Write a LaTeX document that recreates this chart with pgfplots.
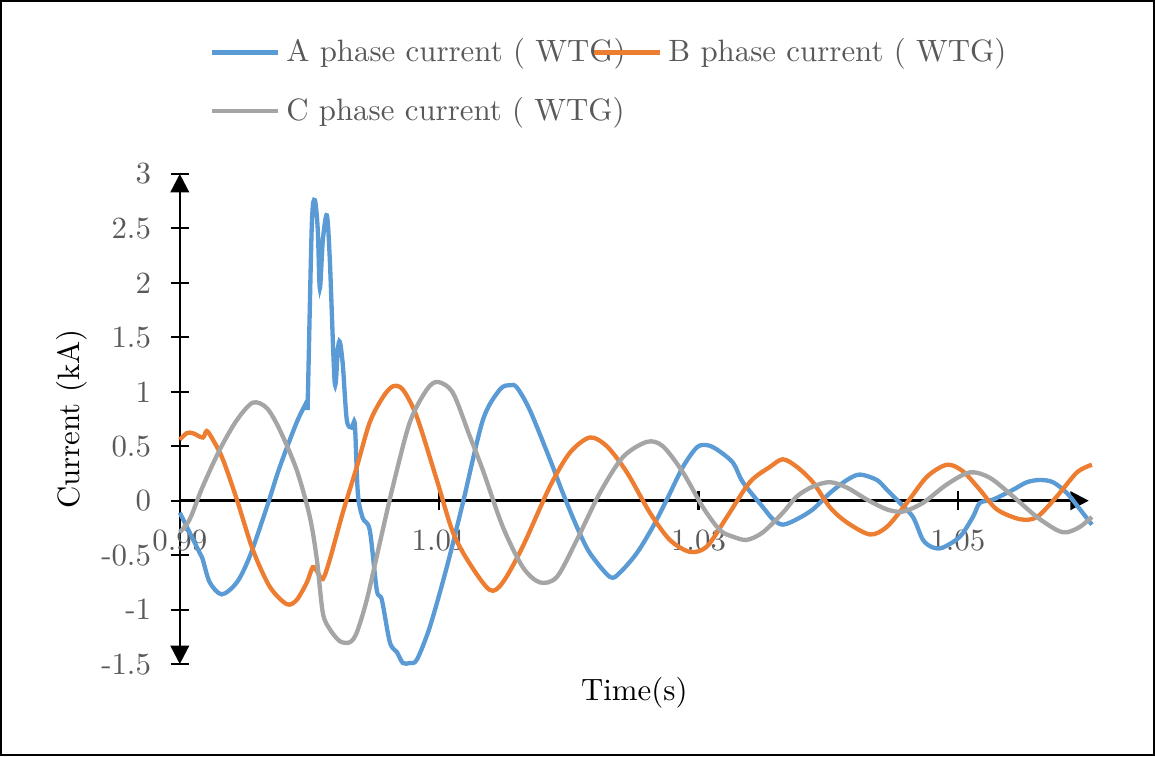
\documentclass[border=0pt]{standalone}
\usepackage{pgfplots}
\pgfplotsset{compat=1.18}
\usetikzlibrary{arrows.meta}
\definecolor{cA}{HTML}{5B9BD5}
\definecolor{cB}{HTML}{ED7D31}
\definecolor{cC}{HTML}{A5A5A5}
\definecolor{tg}{HTML}{595959}
\begin{document}
\begin{tikzpicture}
\begin{axis}[
  scale only axis, width=294.5pt, height=158.8pt,
  xmin=0.99, xmax=1.0601, ymin=-1.5, ymax=3,
  axis lines=middle,
  hide obscured x ticks=false, hide obscured y ticks=false,
  x axis line style={line width=0.8pt, -{Triangle[width=6pt,length=6pt]}},
  y axis line style={line width=0.8pt, {Triangle[width=6pt,length=6pt]}-{Triangle[width=6pt,length=6pt]}},
  xtick={0.99,1.01,1.03,1.05},
  xticklabels={0.99,1.01,1.03,1.05},
  ytick={-1.5,-1,...,3},
  yticklabels={-1.5,-1,-0.5,0,0.5,1,1.5,2,2.5,3},
  tick align=center, major tick length=6pt,
  tick style={black, line width=0.7pt},
  xticklabel style={text=tg, anchor=north, yshift=-3pt},
  yticklabel style={text=tg, anchor=east, xshift=-2.8pt},
  every axis x label/.style={at={(axis description cs:0.5,0)}, anchor=center, yshift=-9.4pt},
  every axis y label/.style={at={(axis description cs:-0.119,0.5)}, rotate=90, anchor=center},
  xlabel={Time(s)}, ylabel={Current (kA)},
  legend columns=2,
  legend cell align=left,
  legend style={draw=none, fill=none, at={(axis description cs:0.032,1.29)}, anchor=north west,
    text=tg, inner sep=0pt, row sep=6pt,
    /tikz/every even column/.append style={column sep=-13pt}},
  legend image code/.code={\draw[#1, line width=1.4pt] (0pt,0pt) -- (21.5pt,0pt);},
  clip=false,
]
\addplot[cA, line width=1.4pt, smooth, tension=0.5] coordinates {
(0.99000,-0.11) (0.99154,-0.48) (0.99177,-0.54) (0.99231,-0.75) (0.99324,-0.86)
(0.99440,-0.75) (0.99540,-0.51) (0.99671,-0.06) (0.99771,0.31) (0.99902,0.72)
(0.99980,0.91) (0.99987,0.93) (1.00018,2.53) (1.00041,2.76) (1.00064,2.49)
(1.00080,1.95) (1.00103,2.39) (1.00134,2.62) (1.00157,2.21) (1.00195,1.08)
(1.00219,1.39) (1.00234,1.46) (1.00257,1.25) (1.00288,0.74) (1.00327,0.67)
(1.00350,0.70) (1.00373,0.07) (1.00411,-0.16) (1.00465,-0.27) (1.00519,-0.82)
(1.00558,-0.91) (1.00620,-1.30) (1.00674,-1.39) (1.00720,-1.49) (1.00774,-1.49)
(1.00828,-1.46) (1.00928,-1.16) (1.01059,-0.61) (1.01183,-0.02) (1.01337,0.74)
(1.01468,1.02) (1.01545,1.06) (1.01599,1.04) (1.01700,0.83) (1.01854,0.38)
(1.01954,0.07) (1.02062,-0.24) (1.02162,-0.48) (1.02317,-0.70) (1.02394,-0.66)
(1.02525,-0.48) (1.02648,-0.24) (1.02756,0.01) (1.02880,0.31) (1.02988,0.49)
(1.03065,0.51) (1.03142,0.47) (1.03265,0.35) (1.03342,0.17) (1.03497,-0.06)
(1.03574,-0.17) (1.03651,-0.22) (1.03759,-0.17) (1.03882,-0.08) (1.04013,0.07)
(1.04145,0.19) (1.04245,0.24) (1.04376,0.19) (1.04453,0.10) (1.04553,-0.02)
(1.04654,-0.15) (1.04731,-0.36) (1.04808,-0.43) (1.04885,-0.43) (1.05016,-0.33)
(1.05116,-0.15) (1.05170,-0.02) (1.05271,0.01) (1.05425,0.10) (1.05533,0.17)
(1.05633,0.19) (1.05733,0.17) (1.05841,0.07) (1.05942,-0.08) (1.06034,-0.22)
};
\addlegendentry{A phase current ( WTG)}
\addplot[cB, line width=1.4pt, smooth, tension=0.5] coordinates {
(0.99000,0.56) (0.99054,0.62) (0.99100,0.62) (0.99177,0.58) (0.99208,0.64)
(0.99255,0.56) (0.99332,0.38) (0.99440,0.01) (0.99563,-0.45) (0.99694,-0.79)
(0.99825,-0.95) (0.99902,-0.91) (0.99980,-0.75) (1.00026,-0.61) (1.00064,-0.66)
(1.00103,-0.72) (1.00157,-0.54) (1.00257,-0.11) (1.00365,0.31) (1.00465,0.72)
(1.00566,0.95) (1.00643,1.05) (1.00720,1.02) (1.00828,0.77) (1.00982,0.19)
(1.01106,-0.29) (1.01237,-0.58) (1.01391,-0.82) (1.01491,-0.75) (1.01645,-0.42)
(1.01854,0.13) (1.02008,0.44) (1.02162,0.58) (1.02293,0.50) (1.02448,0.26)
(1.02625,-0.11) (1.02779,-0.36) (1.02934,-0.47) (1.03065,-0.42) (1.03219,-0.15)
(1.03396,0.17) (1.03551,0.31) (1.03651,0.38) (1.03759,0.31) (1.03882,0.17)
(1.04013,-0.06) (1.04145,-0.20) (1.04322,-0.31) (1.04453,-0.24) (1.04607,-0.02)
(1.04762,0.22) (1.04916,0.33) (1.05039,0.27) (1.05170,0.10) (1.05301,-0.08)
(1.05479,-0.17) (1.05610,-0.15) (1.05764,0.04) (1.05919,0.26) (1.06034,0.33)
};
\addlegendentry{B phase current ( WTG)}
\addplot[cC, line width=1.4pt, smooth, tension=0.5] coordinates {
(0.99000,-0.29) (0.99077,-0.17) (0.99177,0.13) (0.99309,0.47) (0.99440,0.74)
(0.99563,0.90) (0.99671,0.85) (0.99771,0.65) (0.99902,0.28) (1.00003,-0.15)
(1.00057,-0.54) (1.00103,-1.03) (1.00157,-1.18) (1.00234,-1.29) (1.00311,-1.30)
(1.00365,-1.21) (1.00442,-0.91) (1.00542,-0.39) (1.00643,0.13) (1.00774,0.72)
(1.00905,1.02) (1.00990,1.09) (1.01106,0.99) (1.01237,0.59) (1.01337,0.28)
(1.01491,-0.24) (1.01645,-0.61) (1.01776,-0.75) (1.01908,-0.70) (1.02062,-0.36)
(1.02239,0.07) (1.02417,0.40) (1.02602,0.54) (1.02725,0.50) (1.02880,0.26)
(1.03034,-0.06) (1.03165,-0.27) (1.03265,-0.33) (1.03373,-0.36) (1.03497,-0.29)
(1.03651,-0.11) (1.03759,0.04) (1.03882,0.13) (1.04013,0.17) (1.04145,0.12)
(1.04299,0.01) (1.04453,-0.08) (1.04576,-0.10) (1.04731,-0.02) (1.04916,0.15)
(1.05093,0.26) (1.05247,0.21) (1.05425,0.04) (1.05610,-0.15) (1.05764,-0.27)
(1.05842,-0.29) (1.05942,-0.24) (1.06034,-0.15)
};
\addlegendentry{C phase current ( WTG)}
\end{axis}
\draw[line width=0.7pt] (-57.9pt,-29.5pt) rectangle (315.6pt,214.8pt);
\end{tikzpicture}
\end{document}
